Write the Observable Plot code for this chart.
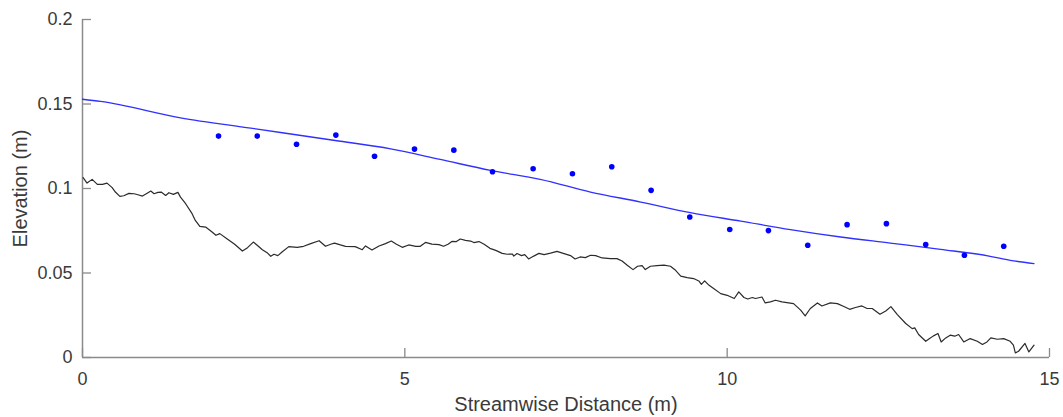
<!DOCTYPE html>
<html><head><meta charset="utf-8">
<script src="https://cdn.jsdelivr.net/npm/d3@7"></script>
<script src="https://cdn.jsdelivr.net/npm/@observablehq/plot@0.6"></script>
<style>body{margin:0;background:#fff;}</style>
</head><body><div id="chart"></div>
<script>
const xTicks = [0, 5, 10, 15];
const yTicks = [0, 0.05, 0.1, 0.15, 0.2];
const yTickLabels = ["0", "0.05", "0.1", "0.15", "0.2"];
const xLabel = "Streamwise Distance (m)";
const yLabel = "Elevation (m)";

// bed profile (black line)
const profileX = [0.01,0.07,0.15,0.23,0.31,0.38,0.46,0.51,0.58,0.64,0.72,0.80,0.86,0.93,0.99,1.06,1.11,1.17,1.22,1.29,1.34,1.41,1.48,1.52,1.60,1.70,1.75,1.82,1.91,2.00,2.07,2.13,2.24,2.36,2.48,2.56,2.65,2.71,2.79,2.87,2.92,2.97,3.03,3.10,3.20,3.33,3.43,3.54,3.67,3.77,3.85,3.91,4.00,4.08,4.23,4.34,4.39,4.49,4.60,4.70,4.79,4.87,4.96,5.06,5.17,5.24,5.32,5.42,5.53,5.60,5.67,5.73,5.80,5.86,5.94,6.02,6.07,6.15,6.23,6.32,6.41,6.51,6.59,6.67,6.69,6.74,6.81,6.86,6.92,7.00,7.08,7.16,7.26,7.36,7.47,7.57,7.64,7.72,7.80,7.88,7.96,8.06,8.19,8.29,8.37,8.45,8.54,8.61,8.68,8.73,8.81,8.91,9.02,9.12,9.20,9.28,9.38,9.48,9.56,9.60,9.65,9.72,9.79,9.90,10.00,10.11,10.18,10.26,10.32,10.39,10.44,10.54,10.59,10.67,10.75,10.85,11.03,11.14,11.21,11.29,11.40,11.47,11.60,11.71,11.81,11.90,11.99,12.09,12.17,12.25,12.37,12.46,12.54,12.64,12.77,12.87,12.91,12.97,13.08,13.14,13.20,13.27,13.32,13.39,13.46,13.53,13.59,13.67,13.77,13.88,13.96,14.03,14.09,14.19,14.29,14.39,14.44,14.47,14.52,14.62,14.68,14.76];
const profileY = [0.1064,0.1032,0.1054,0.1024,0.1024,0.1032,0.1005,0.0979,0.0953,0.0957,0.0971,0.0969,0.0963,0.0955,0.0969,0.0985,0.0969,0.0977,0.0979,0.0959,0.0975,0.0965,0.0977,0.0949,0.0910,0.0851,0.0811,0.0776,0.0772,0.0746,0.0723,0.0733,0.0703,0.0670,0.0630,0.0650,0.0683,0.0664,0.0638,0.0618,0.0599,0.0611,0.0603,0.0626,0.0656,0.0652,0.0658,0.0674,0.0691,0.0658,0.0670,0.0677,0.0666,0.0658,0.0656,0.0638,0.0660,0.0636,0.0660,0.0674,0.0689,0.0670,0.0652,0.0666,0.0658,0.0658,0.0681,0.0671,0.0668,0.0658,0.0670,0.0687,0.0686,0.0701,0.0693,0.0689,0.0680,0.0686,0.0670,0.0646,0.0634,0.0616,0.0611,0.0612,0.0600,0.0615,0.0603,0.0609,0.0583,0.0600,0.0616,0.0609,0.0618,0.0628,0.0615,0.0603,0.0583,0.0595,0.0591,0.0605,0.0603,0.0589,0.0585,0.0585,0.0571,0.0546,0.0520,0.0540,0.0544,0.0520,0.0540,0.0544,0.0547,0.0540,0.0516,0.0481,0.0473,0.0467,0.0453,0.0433,0.0453,0.0427,0.0408,0.0378,0.0368,0.0349,0.0388,0.0355,0.0346,0.0355,0.0349,0.0358,0.0323,0.0329,0.0339,0.0329,0.0319,0.0280,0.0246,0.0290,0.0323,0.0305,0.0323,0.0319,0.0302,0.0285,0.0296,0.0305,0.0290,0.0290,0.0256,0.0275,0.0301,0.0254,0.0201,0.0171,0.0175,0.0136,0.0096,0.0112,0.0128,0.0142,0.0092,0.0116,0.0132,0.0126,0.0136,0.0092,0.0112,0.0096,0.0077,0.0092,0.0116,0.0108,0.0112,0.0096,0.0073,0.0027,0.0037,0.0083,0.0033,0.0073];

// fitted water surface (blue line)
const fitX = [0, 0.28, 1.52, 2.61, 3.92, 4.78, 5.55, 6.33, 7.10, 7.88, 8.66, 9.43, 10.21, 10.98, 11.76, 12.53, 13.31, 14.08, 14.39, 14.76];
const fitY = [0.1528, 0.1515, 0.1418, 0.1357, 0.1284, 0.1235, 0.1172, 0.1107, 0.1054, 0.0979, 0.0920, 0.0857, 0.0807, 0.0757, 0.0713, 0.0677, 0.0640, 0.0599, 0.0575, 0.0556];

// measured water surface (blue dots)
const surveyX = [2.11, 2.71, 3.32, 3.93, 4.53, 5.15, 5.76, 6.36, 6.99, 7.60, 8.21, 8.82, 9.42, 10.04, 10.64, 11.25, 11.86, 12.47, 13.08, 13.68, 14.29];
const surveyY = [0.1310, 0.1310, 0.1262, 0.1316, 0.1191, 0.1233, 0.1227, 0.1099, 0.1117, 0.1087, 0.1129, 0.0989, 0.0831, 0.0757, 0.0751, 0.0664, 0.0786, 0.0792, 0.0668, 0.0605, 0.0658];

const profile = profileX.map((x, i) => ({x, y: profileY[i]}));
const fit = fitX.map((x, i) => ({x, y: fitY[i]}));
const survey = surveyX.map((x, i) => ({x, y: surveyY[i]}));

const W = 1063, H = 417, mL = 82, mR = 14, mT = 19, mB = 60, tickLen = 9;
const axisColor = "#8a8a8a";
const textColor = "#3a3a3a";

// inward tick length (9px) expressed in data units via the same linear mapping
const xs = d3.scaleLinear([0, 15], [mL, W - mR]);
const ys = d3.scaleLinear([0, 0.2], [H - mB, mT]);
const xTickTop = ys.invert(H - mB - tickLen);
const yTickEnd = xs.invert(mL + tickLen);

const chart = Plot.plot({
  width: W,
  height: H,
  marginLeft: mL,
  marginRight: mR,
  marginTop: mT,
  marginBottom: mB,
  style: {fontFamily: "'Liberation Sans', Arial, Helvetica, sans-serif", background: "#fff", color: textColor},
  x: {domain: [0, 15]},
  y: {domain: [0, 0.2]},
  marks: [
    Plot.ruleX([0], {stroke: axisColor, strokeWidth: 1.5}),
    Plot.ruleY([0], {stroke: axisColor, strokeWidth: 1.5}),
    Plot.ruleX(xTicks, {x: d => d, y1: 0, y2: xTickTop, stroke: axisColor, strokeWidth: 1.3}),
    Plot.ruleY(yTicks, {y: d => d, x1: 0, x2: yTickEnd, stroke: axisColor, strokeWidth: 1.3}),
    Plot.axisX(xTicks, {tickSize: 0, tickPadding: 15, fontSize: 18, fill: textColor, label: null}),
    Plot.axisY(yTicks, {tickSize: 0, tickPadding: 10, fontSize: 18, fill: textColor, label: null,
      tickFormat: d => yTickLabels[yTicks.indexOf(d)]}),
    Plot.line(profile, {x: "x", y: "y", stroke: "#2b2b2b", strokeWidth: 1.2}),
    Plot.line(fit, {x: "x", y: "y", stroke: "#3030ff", strokeWidth: 1.3, curve: "monotone-x"}),
    Plot.dot(survey, {x: "x", y: "y", r: 2.8, fill: "#0000ff", stroke: null}),
    Plot.text([xLabel], {frameAnchor: "bottom", dy: 47, fontSize: 20, fill: textColor, lineAnchor: "middle"}),
    Plot.text([yLabel], {frameAnchor: "left", dx: -62, rotate: -90, fontSize: 20, fill: textColor, textAnchor: "middle", lineAnchor: "middle"})
  ]
});
document.getElementById("chart").appendChild(chart);
</script>
</body></html>
